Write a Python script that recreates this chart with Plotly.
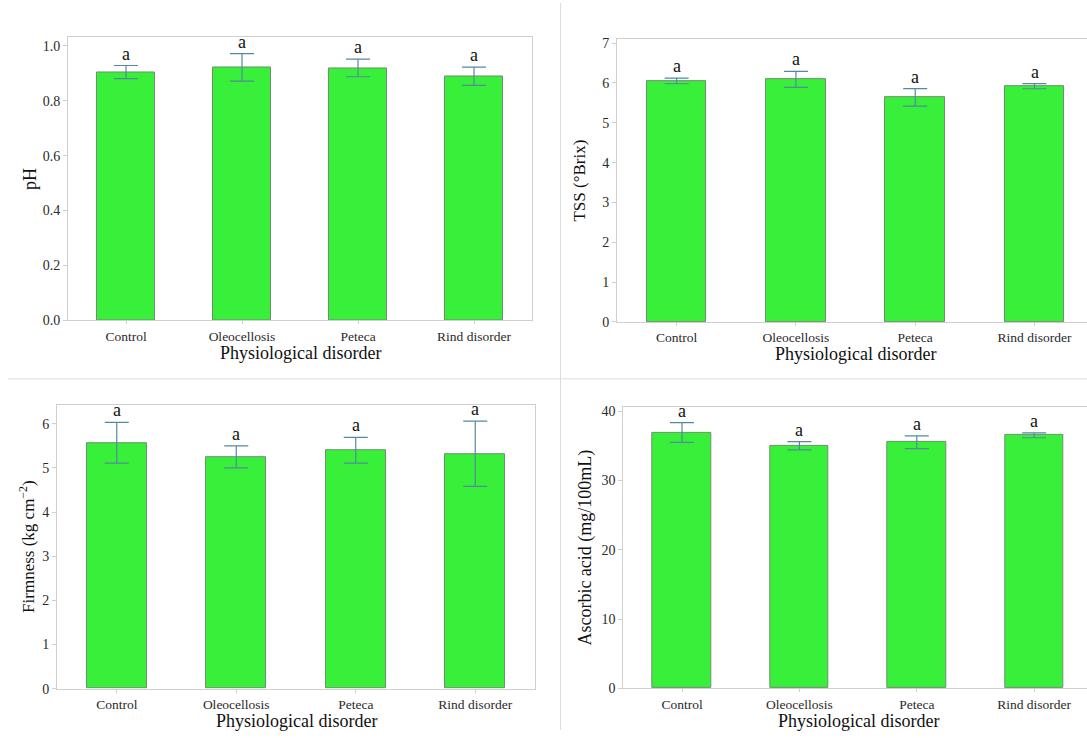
import plotly.graph_objects as go

W, H = 1087, 738

categories = ["Control", "Oleocellosis", "Peteca", "Rind disorder"]

ph_mean = [0.904, 0.921, 0.919, 0.889]
ph_err = [0.024, 0.050, 0.032, 0.033]

tss_mean = [6.05, 6.09, 5.64, 5.92]
tss_err = [0.07, 0.20, 0.22, 0.065]

firm_mean = [5.57, 5.25, 5.40, 5.32]
firm_err = [0.46, 0.25, 0.29, 0.74]

asc_mean = [36.9, 35.0, 35.5, 36.5]
asc_err = [1.42, 0.60, 0.92, 0.35]

letters = ["a", "a", "a", "a"]

y_titles = ["pH", "TSS (°Brix)", "Firmness (kg cm<sup>−2</sup>)", "Ascorbic acid (mg/100mL)"]
x_title = "Physiological disorder"

FONT = "Liberation Serif"
BAR = "#38f03a"
BAR_LINE = "#6f8f6f"
ERR = "#55899f"
AX = "#cfcfcf"

fig = go.Figure()

def px_x(v):
    return v / W

def px_y(v):
    return 1 - v / H

panels = [
    dict(l=68, r=532, t=35, b=322.3, xr=[-0.5, 3.5], yr=[0, 1.03], dtick=0.2, fmt=".1f",
         mean=ph_mean, err=ph_err, ytx=30, title_size=18),
    dict(l=617, r=1087, t=36.7, b=323.8, xr=[-0.5, 3.44], yr=[0, 7.1], dtick=1, fmt="d",
         mean=tss_mean, err=tss_err, ytx=580, title_size=17),
    dict(l=57, r=535, t=408.3, b=696, xr=[-0.5, 3.5], yr=[0, 6.42], dtick=1, fmt="d",
         mean=firm_mean, err=firm_err, ytx=27, title_size=17),
    dict(l=623.3, r=1087, t=410, b=695.7, xr=[-0.5, 3.45], yr=[0, 40.6], dtick=10, fmt="d",
         mean=asc_mean, err=asc_err, ytx=586, title_size=18),
]

annotations = []
for i, p in enumerate(panels):
    n = "" if i == 0 else str(i + 1)
    xa = "x" + n
    ya = "y" + n
    fig.add_trace(go.Bar(
        x=list(range(len(categories))), y=p["mean"], width=0.5,
        marker=dict(color=BAR, line=dict(color=BAR_LINE, width=1)),
        error_y=dict(type="data", array=p["err"], visible=True, color=ERR, thickness=1.2, width=12),
        xaxis=xa, yaxis=ya, showlegend=False,
    ))
    clipped = p["r"] >= W
    fig.layout["xaxis" + n] = dict(
        domain=[px_x(p["l"]), px_x(p["r"])], range=p["xr"], anchor=ya,
        tickmode="array", tickvals=list(range(len(categories))), ticktext=categories,
        showline=True, linecolor=AX, linewidth=1, mirror=True,
        ticks="outside", ticklen=3, tickcolor=AX, showgrid=False, zeroline=False,
        tickfont=dict(family=FONT, size=13.5, color="#2a2a2a"), fixedrange=True,
    )
    fig.layout["yaxis" + n] = dict(
        domain=[px_y(p["b"]), px_y(p["t"])], range=p["yr"], anchor=xa,
        dtick=p["dtick"], tick0=0, tickformat=p["fmt"],
        showline=True, linecolor=AX, linewidth=1, mirror=not clipped,
        ticks="outside", ticklen=4, tickcolor=AX, showgrid=False, zeroline=False,
        tickfont=dict(family=FONT, size=14, color="#2a2a2a"), fixedrange=True,
    )
    for j, (m, e) in enumerate(zip(p["mean"], p["err"])):
        annotations.append(dict(
            x=j, y=m + e, xref=xa, yref=ya, text=letters[j], showarrow=False,
            yanchor="bottom", yshift=0, font=dict(family=FONT, size=18, color="#111"),
        ))
    annotations.append(dict(
        x=px_x(p["ytx"]), y=px_y((p["t"] + p["b"]) / 2), xref="paper", yref="paper",
        text=y_titles[i], textangle=-90, showarrow=False, xanchor="center", yanchor="middle",
        font=dict(family=FONT, size=p["title_size"], color="#111"),
    ))
    span = p["xr"][1] - p["xr"][0]
    cx = p["l"] + (1.5 - p["xr"][0]) * (p["r"] - p["l"]) / span
    annotations.append(dict(
        x=px_x(cx), y=px_y(p["b"] + 33), xref="paper", yref="paper",
        text=x_title, showarrow=False, xanchor="center", yanchor="middle",
        font=dict(family=FONT, size=18, color="#111"),
    ))

shapes = [
    dict(type="line", xref="paper", yref="paper", x0=px_x(560.5), x1=px_x(560.5), y0=0, y1=1,
         line=dict(color="#dcdcdc", width=1)),
    dict(type="line", xref="paper", yref="paper", x0=px_x(8), x1=1, y0=px_y(381.5), y1=px_y(381.5),
         line=dict(color="#dcdcdc", width=1)),
]

fig.update_layout(
    width=W, height=H, margin=dict(l=0, r=0, t=0, b=0),
    paper_bgcolor="white", plot_bgcolor="white",
    annotations=annotations, shapes=shapes, bargap=0,
)

fig.write_html(
    "out.html",
    config={"displayModeBar": False},
    post_script="document.body.style.margin='0';document.body.style.overflow='hidden';",
)
